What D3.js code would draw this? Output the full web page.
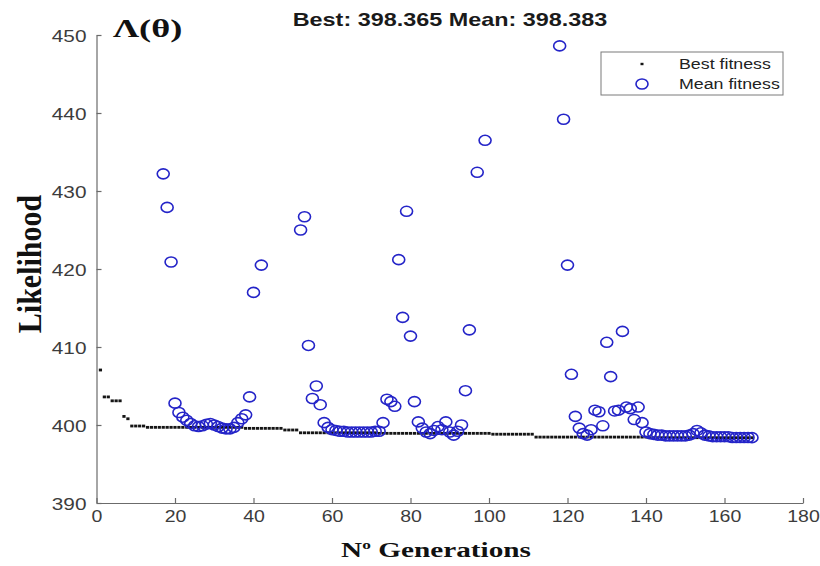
<!DOCTYPE html>
<html>
<head>
<meta charset="utf-8">
<script src="https://cdn.jsdelivr.net/npm/d3@7"></script>
<style>
  body { margin: 0; background: #fff; }
</style>
</head>
<body>
<div id="chart"></div>
<script>
// axis ticks
const xTicks = [0, 20, 40, 60, 80, 100, 120, 140, 160, 180];
const yTicks = [390, 400, 410, 420, 430, 440, 450];

// best fitness: step runs (first generation, last generation, value)
const bestFrom = [1, 2, 4, 7, 8, 9, 13, 38, 48, 52, 72, 101, 112, 141];
const bestTo   = [1, 3, 6, 7, 8, 12, 37, 47, 51, 71, 100, 111, 140, 167];
const bestVal  = [407.05, 403.6, 403.1, 401.1, 400.8, 399.87, 399.7, 399.57, 399.36, 399.0, 398.93, 398.82, 398.45, 398.37];

// mean fitness (only the generations visible inside the axes)
const meanGen = [17, 18, 19, 20, 21, 22, 23, 24, 25, 26, 27, 28, 29, 30, 31, 32, 33, 34, 35, 36, 37, 38, 39, 40, 42,
  52, 53, 54, 55, 56, 57, 58, 59, 60, 61, 62, 63, 64, 65, 66, 67, 68, 69, 70, 71, 72,
  73, 74, 75, 76, 77, 78, 79, 80, 81, 82, 83, 84, 85, 86, 87, 88, 89, 90, 91, 92, 93, 94, 95, 97, 99,
  118, 119, 120, 121, 122, 123, 124, 125, 126, 127, 128, 129, 130, 131, 132, 133, 134, 135, 136, 137, 138, 139,
  140, 141, 142, 143, 144, 145, 146, 147, 148, 149, 150, 151, 152, 153, 154, 155, 156, 157, 158, 159, 160,
  161, 162, 163, 164, 165, 166, 167];
const meanVal = [432.2, 427.9, 420.9, 402.8, 401.6, 401.0, 400.6, 400.2, 399.9, 399.8, 399.9, 400.1, 400.2, 400.0, 399.8, 399.6, 399.5, 399.5, 399.7, 400.3, 400.8, 401.3, 403.6, 417.0, 420.5,
  425.0, 426.7, 410.2, 403.4, 405.0, 402.6, 400.3, 399.7, 399.4, 399.3, 399.2, 399.2, 399.1, 399.1, 399.1, 399.1, 399.1, 399.1, 399.1, 399.2, 399.2,
  400.3, 403.3, 403.0, 402.4, 421.2, 413.8, 427.4, 411.4, 403.0, 400.4, 399.6, 399.1, 398.9, 399.3, 399.8, 399.4, 400.4, 399.1, 398.7, 399.2, 400.0, 404.4, 412.2, 432.4, 436.5,
  448.6, 439.2, 420.5, 406.5, 401.1, 399.6, 398.9, 398.7, 399.4, 401.9, 401.7, 399.9, 410.6, 406.2, 401.8, 401.9, 412.0, 402.3, 402.1, 400.7, 402.3, 400.3,
  399.1, 398.9, 398.8, 398.7, 398.7, 398.6, 398.6, 398.6, 398.6, 398.6, 398.6, 398.7, 398.9, 399.3, 399.0, 398.7, 398.6, 398.5, 398.5, 398.5, 398.5,
  398.5, 398.4, 398.4, 398.4, 398.4, 398.4, 398.38];

const titleText = "Best: 398.365 Mean: 398.383";
const legendLabels = ["Best fitness", "Mean fitness"];

const width = 820, height = 566;
const SX = 1.3; // the picture is stretched sideways, text too
const blue = "#2424c8";
const axisColor = "#6b6b6b";

const svg = d3.select("#chart").append("svg")
  .attr("width", width)
  .attr("height", height);

const x = d3.scaleLinear().domain([0, 180]).range([96.5, 803]);
const y = d3.scaleLinear().domain([390, 450]).range([503, 35]);

// x axis, ticks pointing inward
const gx = svg.append("g")
  .attr("transform", "translate(0," + y(390) + ")")
  .call(d3.axisBottom(x).tickValues(xTicks).tickSizeInner(-5).tickSizeOuter(0));
gx.selectAll("text")
  .attr("y", 0).attr("dy", null)
  .attr("transform", "translate(0,19) scale(1.22,1)");

// y axis
const gy = svg.append("g")
  .attr("transform", "translate(" + x(0) + ",0)")
  .call(d3.axisLeft(y).tickValues(yTicks).tickSizeInner(-5).tickSizeOuter(0));
gy.selectAll("text")
  .attr("x", 0)
  .attr("transform", "translate(-10,1) scale(" + SX + ",1)");

svg.selectAll(".domain, .tick line")
  .attr("stroke", axisColor)
  .attr("stroke-width", 1.2);
svg.selectAll(".tick text")
  .attr("fill", "#3c3c3c")
  .style("font-family", "'Liberation Sans', Arial, sans-serif")
  .style("font-size", "16px");

// best fitness dots
const bestPts = [];
bestFrom.forEach((g0, i) => {
  for (let g = g0; g <= bestTo[i]; g++) bestPts.push({ gen: g, val: bestVal[i] });
});
svg.append("g").selectAll("rect")
  .data(bestPts).enter()
  .append("rect")
  .attr("x", d => x(d.gen) - 1.6)
  .attr("y", d => y(d.val) - 1.4)
  .attr("width", 3.2)
  .attr("height", 2.8)
  .attr("fill", "#151515");

// mean fitness circles
svg.append("g").selectAll("ellipse")
  .data(meanGen.map((g, i) => ({ gen: g, val: meanVal[i] }))).enter()
  .append("ellipse")
  .attr("cx", d => x(d.gen))
  .attr("cy", d => y(d.val))
  .attr("rx", 6)
  .attr("ry", 5)
  .attr("fill", "none")
  .attr("stroke", blue)
  .attr("stroke-width", 1.6);

// title
svg.append("text")
  .text(titleText)
  .attr("transform", "translate(450,26) scale(" + SX + ",1)")
  .attr("text-anchor", "middle")
  .attr("fill", "#1a1a1a")
  .style("font-family", "'Liberation Sans', Arial, sans-serif")
  .style("font-weight", "bold")
  .style("font-size", "18px");

// Lambda(theta) label
svg.append("text")
  .text("Λ(θ)")
  .attr("transform", "translate(113,37) scale(1.4,1)")
  .attr("fill", "#111")
  .style("font-family", "'Liberation Serif', 'Times New Roman', serif")
  .style("font-weight", "bold")
  .style("font-size", "26px");

// y label
svg.append("text")
  .text("Likelihood")
  .attr("transform", "translate(41,264) rotate(-90) scale(1,1.15)")
  .attr("text-anchor", "middle")
  .attr("fill", "#111")
  .style("font-family", "'Liberation Serif', 'Times New Roman', serif")
  .style("font-weight", "bold")
  .style("font-size", "30px");

// x label
const xl = svg.append("text")
  .attr("transform", "translate(436,557) scale(1.33,1)")
  .attr("text-anchor", "middle")
  .attr("fill", "#111")
  .style("font-family", "'Liberation Serif', 'Times New Roman', serif")
  .style("font-weight", "bold")
  .style("font-size", "22px");
xl.append("tspan").text("N");
xl.append("tspan").text("o").attr("dy", -8).style("font-size", "13px");
xl.append("tspan").text(" Generations").attr("dy", 8);

// legend
const lg = svg.append("g");
lg.append("rect")
  .attr("x", 601).attr("y", 52)
  .attr("width", 182).attr("height", 43)
  .attr("fill", "#fff")
  .attr("stroke", "#7a7a7a")
  .attr("stroke-width", 1);
lg.append("rect")
  .attr("x", 640.5).attr("y", 62.8)
  .attr("width", 3).attr("height", 2.4)
  .attr("fill", "#151515");
lg.append("ellipse")
  .attr("cx", 642).attr("cy", 84)
  .attr("rx", 6).attr("ry", 5)
  .attr("fill", "none")
  .attr("stroke", blue)
  .attr("stroke-width", 1.6);
lg.selectAll("text.leg")
  .data(legendLabels).enter()
  .append("text")
  .attr("class", "leg")
  .text(d => d)
  .attr("transform", (d, i) => "translate(679," + (69 + i * 20) + ") scale(1.27,1)")
  .attr("fill", "#222")
  .style("font-family", "'Liberation Sans', Arial, sans-serif")
  .style("font-size", "14px");
</script>
</body>
</html>
